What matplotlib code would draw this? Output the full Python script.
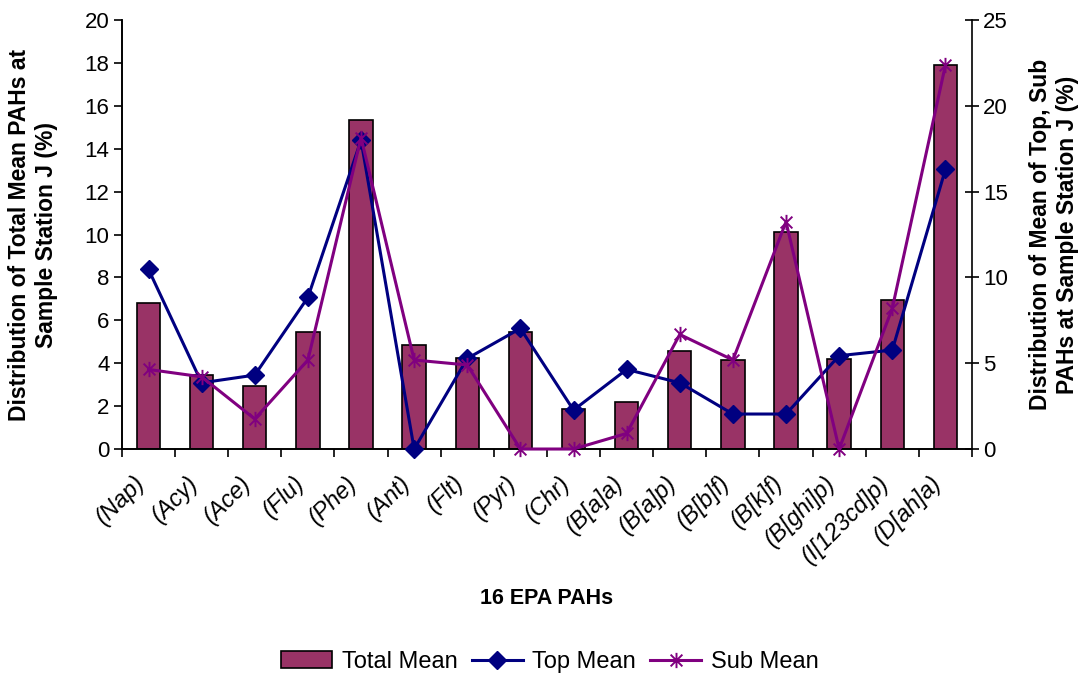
import matplotlib
matplotlib.use("Agg")
import matplotlib.pyplot as plt
import matplotlib.transforms as mtransforms
import numpy as np
from matplotlib.path import Path
from matplotlib.ticker import FixedLocator

plt.rcParams["font.family"] = ["Liberation Sans", "DejaVu Sans"]

compounds = ["(Nap)", "(Acy)", "(Ace)", "(Flu)", "(Phe)", "(Ant)", "(Flt)", "(Pyr)",
             "(Chr)", "(B[a]a)", "(B[a]p)", "(B[b]f)", "(B[k]f)", "(B[ghi]p)",
             "(I[123cd]p)", "(D[ah]a)"]
total_mean = [6.8, 3.45, 2.95, 5.45, 15.35, 4.83, 4.25, 5.47,
              1.85, 2.18, 4.58, 4.15, 10.1, 4.18, 6.93, 17.93]
top_mean = [10.47, 3.86, 4.31, 8.84, 18.0, 0.0, 5.28, 7.03,
            2.27, 4.64, 3.86, 2.04, 2.04, 5.44, 5.77, 16.3]
sub_mean = [4.64, 4.21, 1.75, 5.19, 18.16, 5.19, 4.9, 0.0,
            0.0, 0.91, 6.68, 5.19, 13.25, 0.0, 8.2, 22.38]

# Excel-style star: an x with a vertical stroke
star = Path([(-1, -1), (1, 1), (-1, 1), (1, -1), (0, -1.3), (0, 1.3)],
            [Path.MOVETO, Path.LINETO, Path.MOVETO, Path.LINETO, Path.MOVETO, Path.LINETO])

fig = plt.figure(figsize=(10.86, 6.74), dpi=100)
ax = fig.add_axes([0.1123, 0.3338, 0.7827, 0.6362])
ax2 = ax.twinx()

x = np.arange(len(compounds))
bars = ax.bar(x, total_mean, width=0.44, color="#993366", edgecolor="black",
              linewidth=1.2, label="Total Mean", zorder=2)
l1, = ax2.plot(x, top_mean, color="#000080", lw=2.2, marker="D", ms=9,
               label="Top Mean", zorder=3, clip_on=False)
l2, = ax2.plot(x, sub_mean, color="#800080", lw=2.2, marker=star, ms=11,
               mew=1.4, label="Sub Mean", zorder=3, clip_on=False)
ax.set_zorder(0)
ax2.set_zorder(1)
ax2.patch.set_visible(False)

ax.set_xlim(-0.5, len(compounds) - 0.5)
ax.set_ylim(0, 20)
ax2.set_ylim(0, 25)
ax.set_yticks(np.arange(0, 21, 2))
ax2.set_yticks(np.arange(0, 26, 5))

ax.set_xticks(x)
ax.set_xticklabels(compounds, rotation=45, ha="right", va="center",
                   rotation_mode="anchor", fontstyle="italic", fontsize=17)
ax.tick_params(axis="x", which="major", length=0, pad=22)
# nudge the slanted names a little left so they end just before the bar centre
shift = mtransforms.ScaledTranslation(-7 / 100, 0, fig.dpi_scale_trans)
for lbl in ax.get_xticklabels():
    lbl.set_transform(lbl.get_transform() + shift)
ax.xaxis.set_minor_locator(FixedLocator(np.arange(-0.5, len(compounds), 1)))
ax.tick_params(axis="x", which="minor", length=6, width=1.2, direction="out")
ax.tick_params(axis="y", labelsize=16, length=6, width=1.2, direction="out", pad=3)
ax2.tick_params(axis="y", labelsize=16, length=10, width=1.2, direction="inout", pad=3)

for a in (ax, ax2):
    a.spines["top"].set_visible(False)
    for s in a.spines.values():
        s.set_linewidth(1.2)
ax.spines["right"].set_visible(False)

ax.set_ylabel("Distribution of Total Mean PAHs at\nSample Station J (%)",
              fontsize=16.5, fontweight="bold")
ax.yaxis.set_label_coords(-0.0753, 0.5)
ax2.set_ylabel("Distribution of Mean of Top, Sub\nPAHs at Sample Station J (%)",
               fontsize=16.5, fontweight="bold", rotation=90)
ax2.yaxis.set_label_coords(1.067, 0.5)
ax.set_xlabel("16 EPA PAHs", fontsize=15.5, fontweight="bold")
ax.xaxis.set_label_coords(0.5, -0.325)

fig.legend([bars, l1, l2], ["Total Mean", "Top Mean", "Sub Mean"],
           loc="center", bbox_to_anchor=(550 / 1086, 0.018), ncol=3, frameon=False,
           fontsize=17, handlelength=2.15, columnspacing=0.6, handletextpad=0.42)

fig.savefig("out.png", dpi=100)
